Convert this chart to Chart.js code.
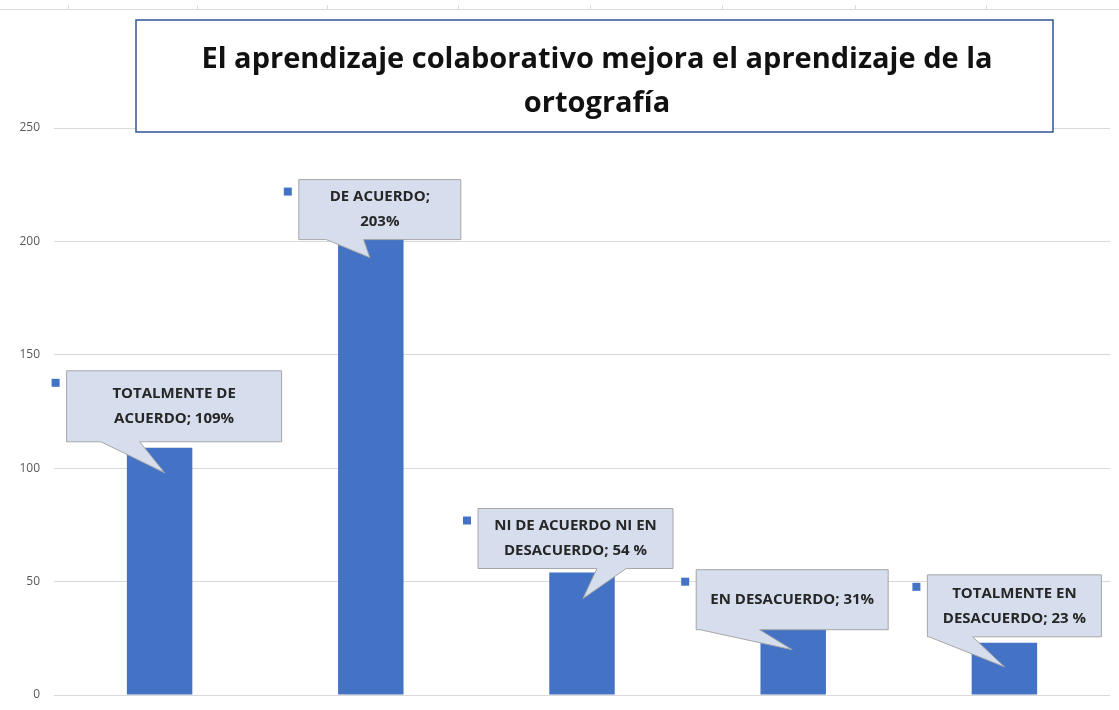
<!DOCTYPE html>
<html>
<head>
<meta charset="utf-8">
<script src="https://cdn.jsdelivr.net/npm/chart.js@4.4.0/dist/chart.umd.min.js"></script>
<style>
  html, body { margin: 0; padding: 0; background: #fff; }
  #wrap { width: 1119px; height: 710px; }
</style>
</head>
<body>
<div id="wrap"><canvas id="chart"></canvas></div>
<script>
const categories = [
  "TOTALMENTE DE ACUERDO",
  "DE ACUERDO",
  "NI DE ACUERDO NI EN DESACUERDO",
  "EN DESACUERDO",
  "TOTALMENTE EN DESACUERDO"
];
const values = [109, 203, 54, 31, 23];
const valueLabels = ["109%", "203%", "54 %", "31%", "23 %"];
const yTicks = [0, 50, 100, 150, 200, 250];
const titleLines = ["El aprendizaje colaborativo mejora el aprendizaje de la", "ortografía"];

// where each callout sits, relative to the top of its bar (pixels)
const callouts = [
  { dx: -93, dy: -77, w: 215, h: 71, words: 2, base: [0.16, 0.34], tip: [5, 25] },
  { dx: -72, dy: -55, w: 162, h: 60, words: 2, base: [0.17, 0.40], tip: [-1, 23] },
  { dx: -104, dy: -64, w: 195, h: 60, words: 5, base: [0.61, 0.76], tip: [1, 26] },
  { dx: -97, dy: -55, w: 192, h: 60, words: 99, base: [0.02, 0.33], tip: [-1, 25] },
  { dx: -77, dy: -68, w: 174, h: 62, words: 2, base: [0.01, 0.26], tip: [0, 24] }
];

const barColor = "#4472C4";
const textFont = "bold 15px 'Open Sans', sans-serif";

const calloutPlugin = {
  id: "callouts",
  afterDatasetsDraw(chart) {
    const ctx = chart.ctx;
    const meta = chart.getDatasetMeta(0);
    const yScale = chart.scales.y;
    ctx.save();
    meta.data.forEach((bar, i) => {
      const c = callouts[i];
      const xc = bar.x;
      const yTop = yScale.getPixelForValue(values[i]);
      const left = xc + c.dx, top = yTop + c.dy;
      const right = left + c.w, bottom = top + c.h;
      const b1 = left + c.base[0] * c.w, b2 = left + c.base[1] * c.w;
      const tx = xc + c.tip[0], ty = yTop + c.tip[1];

      ctx.beginPath();
      ctx.moveTo(left, top);
      ctx.lineTo(right, top);
      ctx.lineTo(right, bottom);
      ctx.lineTo(b2, bottom);
      ctx.lineTo(tx, ty);
      ctx.lineTo(b1, bottom);
      ctx.lineTo(left, bottom);
      ctx.closePath();
      ctx.fillStyle = "#D6DEEE";
      ctx.fill();
      ctx.strokeStyle = "#A6A6A6";
      ctx.lineWidth = 1;
      ctx.stroke();

      // legend key square
      ctx.fillStyle = barColor;
      ctx.fillRect(left - 15, top + 8, 8, 8);

      // text
      const words = (categories[i] + "; " + valueLabels[i]).split(" ");
      const lines = [words.slice(0, c.words).join(" ")];
      if (c.words < words.length) lines.push(words.slice(c.words).join(" "));
      ctx.font = textFont;
      ctx.fillStyle = "#262626";
      ctx.textAlign = "center";
      ctx.textBaseline = "middle";
      const lh = 25;
      const cy = top + c.h / 2 - (lines.length - 1) * lh / 2;
      lines.forEach((ln, k) => ctx.fillText(ln, (left + right) / 2, cy + k * lh));
    });
    ctx.restore();
  },
  afterDraw(chart) {
    const ctx = chart.ctx;
    ctx.save();
    // faint line at the very top
    ctx.strokeStyle = "#DDDDDD";
    ctx.lineWidth = 1;
    ctx.beginPath();
    ctx.moveTo(0, 9.5);
    ctx.lineTo(chart.width, 9.5);
    [68, 197, 327, 458, 590, 722, 855, 986].forEach(x => {
      ctx.moveTo(x + 0.5, 5);
      ctx.lineTo(x + 0.5, 9.5);
    });
    ctx.stroke();

    // title box
    ctx.fillStyle = "#FFFFFF";
    ctx.fillRect(136, 20, 917, 112);
    ctx.strokeStyle = "#2F5597";
    ctx.lineWidth = 1.5;
    ctx.strokeRect(136, 20, 917, 112);
    ctx.font = "bold 29px 'Open Sans', sans-serif";
    ctx.fillStyle = "#111111";
    ctx.textAlign = "center";
    ctx.textBaseline = "middle";
    ctx.fillText(titleLines[0], 597, 60);
    ctx.fillText(titleLines[1], 597, 104);
    ctx.restore();
  }
};

new Chart(document.getElementById("chart"), {
  type: "bar",
  data: {
    labels: categories,
    datasets: [{
      data: values,
      backgroundColor: barColor,
      categoryPercentage: 1,
      barPercentage: 0.31
    }]
  },
  options: {
    responsive: true,
    maintainAspectRatio: false,
    animation: false,
    layout: { padding: { left: 16, right: 9, top: 128, bottom: 15 } },
    plugins: {
      legend: { display: false },
      title: { display: false },
      tooltip: { enabled: false }
    },
    scales: {
      x: {
        display: false
      },
      y: {
        min: 0,
        max: 250,
        afterBuildTicks: (scale) => { scale.ticks = yTicks.map(v => ({ value: v })); },
        afterFit: (scale) => {
          scale.width = 38;
          // tick padding would otherwise push the plot up from the bottom
          scale.paddingTop = 0;
          scale.paddingBottom = 0;
        },
        ticks: {
          color: "#595959",
          padding: 14,
          font: { family: "'Open Sans', sans-serif", size: 12 }
        },
        grid: { color: "#D9D9D9", drawTicks: false },
        border: { display: false }
      }
    }
  },
  plugins: [calloutPlugin]
});
</script>
</body>
</html>
